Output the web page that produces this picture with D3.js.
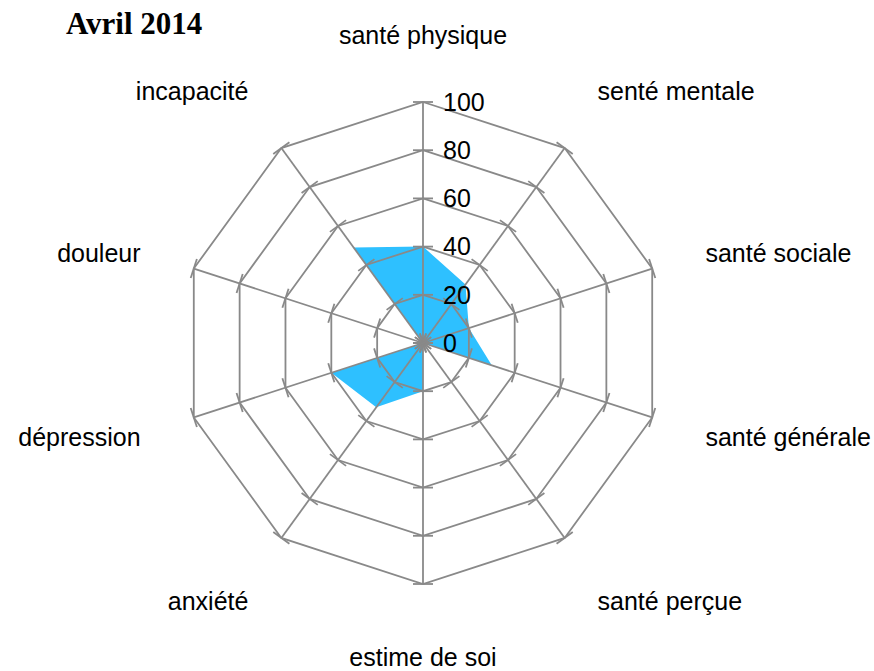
<!DOCTYPE html>
<html>
<head>
<meta charset="utf-8">
<script src="https://cdn.jsdelivr.net/npm/d3@7"></script>
<style>
  body { margin: 0; background: #fff; }
  svg { display: block; }
</style>
</head>
<body>
<script>
// radar chart, one series, 10 axes
var categories = ["santé physique", "senté mentale", "santé sociale", "santé générale",
    "santé perçue", "estime de soi", "anxiété", "dépression", "douleur", "incapacité"];
var values = [40, 30, 20, 30, 0, 20, 33, 40, 0, 49];
var tickValues = [0, 20, 40, 60, 80, 100];
var title = "Avril 2014";

var width = 874, height = 671;
var cx = 423, cy = 343;
var gridColor = "#898989";

var svg = d3.select("body").append("svg")
    .attr("width", width)
    .attr("height", height);

var r = d3.scaleLinear().domain([0, 100]).range([0, 241]);
var angle = d3.scaleLinear().domain([0, categories.length]).range([0, 2 * Math.PI]);

var g = svg.append("g").attr("transform", "translate(" + cx + "," + cy + ")");

function pt(i, v) {
    var a = angle(i);
    return [Math.sin(a) * r(v), -Math.cos(a) * r(v)];
}

// the data area
var radial = d3.lineRadial()
    .angle(function(d, i) { return angle(i); })
    .radius(function(d) { return r(d); })
    .curve(d3.curveLinearClosed);

g.append("path")
    .datum(values)
    .attr("d", radial)
    .attr("fill", "#2ec0ff")
    .attr("stroke", "none");

// rings
g.selectAll(".ring")
    .data(tickValues.filter(function(t) { return t > 0; }))
    .enter()
    .append("path")
    .attr("class", "ring")
    .attr("d", function(t) { return radial(categories.map(function() { return t; })); })
    .attr("fill", "none")
    .attr("stroke", gridColor)
    .attr("stroke-width", 1.8);

// spokes
g.selectAll(".spoke")
    .data(categories)
    .enter()
    .append("line")
    .attr("class", "spoke")
    .attr("x1", 0).attr("y1", 0)
    .attr("x2", function(d, i) { return pt(i, 100)[0]; })
    .attr("y2", function(d, i) { return pt(i, 100)[1]; })
    .attr("stroke", gridColor)
    .attr("stroke-width", 1.8);

// tick marks on every spoke
var tickData = [];
categories.forEach(function(c, i) {
    tickValues.forEach(function(t) { tickData.push({i: i, t: t}); });
});
var tickLen = 10;
g.selectAll(".tick")
    .data(tickData)
    .enter()
    .append("line")
    .attr("class", "tick")
    .attr("x1", function(d) { return pt(d.i, d.t)[0] - Math.cos(angle(d.i)) * tickLen; })
    .attr("y1", function(d) { return pt(d.i, d.t)[1] - Math.sin(angle(d.i)) * tickLen; })
    .attr("x2", function(d) { return pt(d.i, d.t)[0] + Math.cos(angle(d.i)) * tickLen; })
    .attr("y2", function(d) { return pt(d.i, d.t)[1] + Math.sin(angle(d.i)) * tickLen; })
    .attr("stroke", gridColor)
    .attr("stroke-width", 1.8);

// value labels on the first axis
g.selectAll(".tlabel")
    .data(tickValues)
    .enter()
    .append("text")
    .attr("class", "tlabel")
    .attr("x", 20)
    .attr("y", function(d) { return -r(d); })
    .attr("dy", "0.35em")
    .attr("font-family", "Liberation Sans, Arial, sans-serif")
    .attr("font-size", 25)
    .attr("fill", "#000")
    .text(function(d) { return d; });

// category labels
var labelR = r(100) + 56;
g.selectAll(".clabel")
    .data(categories)
    .enter()
    .append("text")
    .attr("class", "clabel")
    .attr("x", function(d, i) { return Math.sin(angle(i)) * labelR; })
    .attr("y", function(d, i) {
        var c = Math.cos(angle(i));
        var off = c > 0.5 ? -11 : (c < -0.5 ? 17.5 : 2.5);
        return -c * labelR + off;
    })
    .attr("dy", "0.35em")
    .attr("text-anchor", function(d, i) {
        var s = Math.sin(angle(i));
        return Math.abs(s) < 0.01 ? "middle" : (s > 0 ? "start" : "end");
    })
    .attr("font-family", "Liberation Sans, Arial, sans-serif")
    .attr("font-size", 25)
    .attr("fill", "#000")
    .text(function(d) { return d; });

svg.append("text")
    .attr("x", 66)
    .attr("y", 34)
    .attr("font-family", "Liberation Serif, Times New Roman, serif")
    .attr("font-weight", "bold")
    .attr("font-size", 31)
    .attr("fill", "#000")
    .text(title);
</script>
</body>
</html>
